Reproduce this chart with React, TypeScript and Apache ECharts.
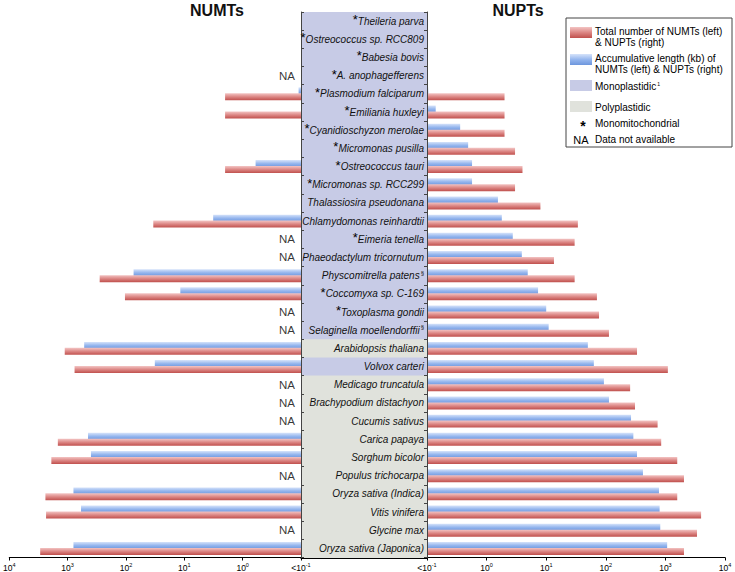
import React, { useEffect, useRef } from 'react';
import * as echarts from 'echarts';

const species = [
  'Theileria parva', 'Ostreococcus sp. RCC809', 'Babesia bovis', 'A. anophagefferens',
  'Plasmodium falciparum', 'Emiliania huxleyi', 'Cyanidioschyzon merolae', 'Micromonas pusilla',
  'Ostreococcus tauri', 'Micromonas sp. RCC299', 'Thalassiosira pseudonana', 'Chlamydomonas reinhardtii',
  'Eimeria tenella', 'Phaeodactylum tricornutum', 'Physcomitrella patens', 'Coccomyxa sp. C-169',
  'Toxoplasma gondii', 'Selaginella moellendorffii', 'Arabidopsis thaliana', 'Volvox carteri',
  'Medicago truncatula', 'Brachypodium distachyon', 'Cucumis sativus', 'Carica papaya',
  'Sorghum bicolor', 'Populus trichocarpa', 'Oryza sativa (Indica)', 'Vitis vinifera',
  'Glycine max', 'Oryza sativa (Japonica)',
];
const plastidType = [
  'mono', 'mono', 'mono', 'mono', 'mono', 'mono', 'mono', 'mono', 'mono', 'mono',
  'mono', 'mono', 'mono', 'mono', 'mono', 'mono', 'mono', 'mono', 'poly', 'mono',
  'poly', 'poly', 'poly', 'poly', 'poly', 'poly', 'poly', 'poly', 'poly', 'poly',
];
const monomito = [
  true, true, true, true, true, true, true, true, true, true,
  false, false, true, false, false, true, true, false, false, false,
  false, false, false, false, false, false, false, false, false, false,
];
const sectionMark = [
  false, false, false, false, false, false, false, false, false, false,
  false, false, false, false, true, false, false, true, false, false,
  false, false, false, false, false, false, false, false, false, false,
];
// NUMTs (left)
const numtCount = [
  null, null, null, null, 2, 2, null, null, 2, null,
  null, 34, null, null, 282, 104, null, null, 1120, 760,
  null, null, null, 1470, 1900, null, 2400, 2340, null, 2950,
];
const numtLength = [
  null, null, null, null, 0.11, null, null, null, 0.6, null,
  null, 3.2, null, null, 74, 11.7, null, null, 520, 32,
  null, null, null, 447, 398, null, 794, 589, null, 794,
];
const numtNA = [
  false, false, false, true, false, false, false, false, false, false,
  false, false, true, true, false, false, true, true, false, false,
  true, true, true, false, false, true, false, false, true, false,
];
// NUPTs (right)
const nuptCount = [
  null, null, null, null, 2, 2, 2, 3, 4, 3,
  8, 34, 30, 13.5, 30, 71, 77, 113, 334, 1100,
  256, 309, 740, 850, 1580, 2050, 1580, 3970, 3390, 2050,
];
const nuptLength = [
  null, null, null, null, 0.105, 0.14, 0.36, 0.49, 0.57, 0.57,
  1.55, 1.8, 2.75, 3.9, 4.9, 7.3, 10, 11, 50, 63,
  93, 113, 265, 290, 334, 420, 780, 800, 820, 1070,
];

const FONT = '"Liberation Sans", Arial, Helvetica, sans-serif';
const MONO_COLOR = '#c7cbe6';
const POLY_COLOR = '#e0e2dc';

const redGrad = () => new echarts.graphic.LinearGradient(0, 0, 0, 1, [
  { offset: 0, color: '#f3c4c3' },
  { offset: 0.5, color: '#dc8684' },
  { offset: 1, color: '#c0504d' },
]);
const blueGrad = () => new echarts.graphic.LinearGradient(0, 0, 0, 1, [
  { offset: 0, color: '#d6e3fa' },
  { offset: 0.5, color: '#95b6ee' },
  { offset: 1, color: '#6d96dd' },
]);

const tickFormatter = (v: number) => {
  const e = Math.round(Math.log10(v));
  if (e <= -1) return '{b|<10}{e|-1}';
  return '{b|10}{e|' + e + '}';
};
const tickRich = {
  b: { fontSize: 8.5, fontFamily: FONT, color: '#000' },
  e: { fontSize: 5.5, fontFamily: FONT, color: '#000', padding: [0, 0, 6, 0] },
};

const TOP = 12;
const HEIGHT = 546;

export default function App() {
  const ref = useRef<HTMLDivElement>(null);
  useEffect(() => {
    if (!ref.current) return;
    const chart = echarts.init(ref.current, undefined, { renderer: 'svg' });

    const barCommon = { barWidth: 7, barGap: '-15%' };
    const logX = (gridIndex: number, inverse: boolean) => ({
      type: 'log', gridIndex, logBase: 10, min: 0.1, max: 10000, inverse,
      startValue: 0.1,
      axisLine: { show: true, lineStyle: { color: '#000', width: 1 } },
      axisTick: { show: true, length: 3, lineStyle: { color: '#000' } },
      axisLabel: { formatter: tickFormatter, rich: tickRich, margin: 4 },
      splitLine: { show: false },
      minorTick: { show: false },
    });

    const legendX = 566;
    const legendTextX = 595;
    const legendText = (text: string, y: number) => ({
      type: 'text', x: legendTextX, y,
      style: { text, font: '10px ' + FONT, fill: '#000', verticalAlign: 'middle' },
    });

    const option = {
      animation: false,
      backgroundColor: '#fff',
      grid: [
        { left: 1, width: 300, top: TOP, height: HEIGHT },
        { left: 301, width: 126, top: TOP, height: HEIGHT },
        { left: 427, width: 298, top: TOP, height: HEIGHT },
      ],
      xAxis: [
        logX(0, true),
        {
          type: 'value', gridIndex: 1, min: 0, max: 1,
          axisLine: { show: true, lineStyle: { color: '#000' } },
          axisTick: { show: false }, axisLabel: { show: false }, splitLine: { show: false },
        },
        logX(2, false),
      ],
      yAxis: [
        {
          type: 'category', gridIndex: 0, data: species, inverse: true, position: 'right', z: 5,
          axisLine: { show: true, lineStyle: { color: '#444' } },
          axisTick: { show: true, inside: false, length: 3, lineStyle: { color: '#444' } },
          axisLabel: { show: false },
        },
        {
          type: 'category', gridIndex: 1, data: species, inverse: true, show: false,
        },
        {
          type: 'category', gridIndex: 2, data: species, inverse: true, position: 'left', z: 5,
          axisLine: { show: true, lineStyle: { color: '#444' } },
          axisTick: { show: true, inside: false, length: 3, lineStyle: { color: '#444' } },
          axisLabel: {
            interval: 0, margin: 3,
            formatter: (value: string, index: number) =>
              (monomito[index] ? '{s|*}' : '') + '{n|' + value + '}' + (sectionMark[index] ? '{p|§}' : ''),
            rich: {
              n: { fontSize: 10, fontStyle: 'italic', fontFamily: FONT, color: '#111' },
              s: { fontSize: 13, fontFamily: FONT, color: '#000', padding: [0, 0, 3, 0] },
              p: { fontSize: 6, fontFamily: FONT, color: '#111', padding: [0, 0, 6, 1] },
            },
          },
        },
      ],
      series: [
        {
          type: 'bar', xAxisIndex: 1, yAxisIndex: 1, barWidth: 19, silent: true, z: 1,
          data: plastidType.map((t) => ({ value: 1, itemStyle: { color: t === 'mono' ? MONO_COLOR : POLY_COLOR } })),
        },
        { type: 'bar', name: 'NUMT length', xAxisIndex: 0, yAxisIndex: 0, data: numtLength, itemStyle: { color: blueGrad() }, ...barCommon },
        { type: 'bar', name: 'NUMT count', xAxisIndex: 0, yAxisIndex: 0, data: numtCount, itemStyle: { color: redGrad() }, ...barCommon },
        {
          type: 'scatter', xAxisIndex: 0, yAxisIndex: 0, symbolSize: 0, silent: true,
          data: numtNA.map((na, i) => (na ? [0.1, i] : null)).filter((d) => d !== null),
          label: { show: true, formatter: 'NA', position: 'left', distance: 6, fontSize: 11.5, fontFamily: FONT, color: '#000' },
        },
        { type: 'bar', name: 'NUPT length', xAxisIndex: 2, yAxisIndex: 2, data: nuptLength, itemStyle: { color: blueGrad() }, ...barCommon },
        { type: 'bar', name: 'NUPT count', xAxisIndex: 2, yAxisIndex: 2, data: nuptCount, itemStyle: { color: redGrad() }, ...barCommon },
      ],
      graphic: [
        { type: 'text', x: 217, y: 2, style: { text: 'NUMTs', align: 'center', font: 'bold 16px ' + FONT, fill: '#111' } },
        { type: 'text', x: 518, y: 2, style: { text: 'NUPTs', align: 'center', font: 'bold 16px ' + FONT, fill: '#111' } },
        { type: 'rect', shape: { x: legendX, y: 18, width: 166, height: 129 }, style: { fill: '#fff', stroke: '#444', lineWidth: 1 } },
        { type: 'rect', shape: { x: 570, y: 27, width: 22, height: 11 }, style: { fill: redGrad() } },
        legendText('Total number of NUMTs (left)', 31),
        legendText('& NUPTs (right)', 42),
        { type: 'rect', shape: { x: 570, y: 54, width: 22, height: 11 }, style: { fill: blueGrad() } },
        legendText('Accumulative length (kb) of', 58),
        legendText('NUMTs (left) & NUPTs (right)', 69),
        { type: 'rect', shape: { x: 570, y: 80, width: 22, height: 11 }, style: { fill: MONO_COLOR } },
        {
          type: 'text', x: legendTextX, y: 86,
          style: {
            text: '{a|Monoplastidic}{b|1}', verticalAlign: 'middle',
            rich: {
              a: { font: '10px ' + FONT, fill: '#000' },
              b: { font: '5px ' + FONT, fill: '#000', padding: [0, 0, 5, 1] },
            },
          },
        },
        { type: 'rect', shape: { x: 570, y: 101, width: 22, height: 11 }, style: { fill: POLY_COLOR } },
        legendText('Polyplastidic', 107),
        { type: 'text', x: 583, y: 126, style: { text: '*', align: 'center', verticalAlign: 'middle', font: 'bold 14px ' + FONT, fill: '#000' } },
        legendText('Monomitochondrial', 123),
        { type: 'text', x: 581, y: 140, style: { text: 'NA', align: 'center', verticalAlign: 'middle', font: '11px ' + FONT, fill: '#000' } },
        legendText('Data not available', 139),
      ],
    };

    chart.setOption(option as any);
    return () => chart.dispose();
  }, []);

  return (
    <div
      ref={ref}
      style={{ position: 'absolute', left: 0, top: 0, width: 735, height: 572, background: '#fff' }}
    />
  );
}
